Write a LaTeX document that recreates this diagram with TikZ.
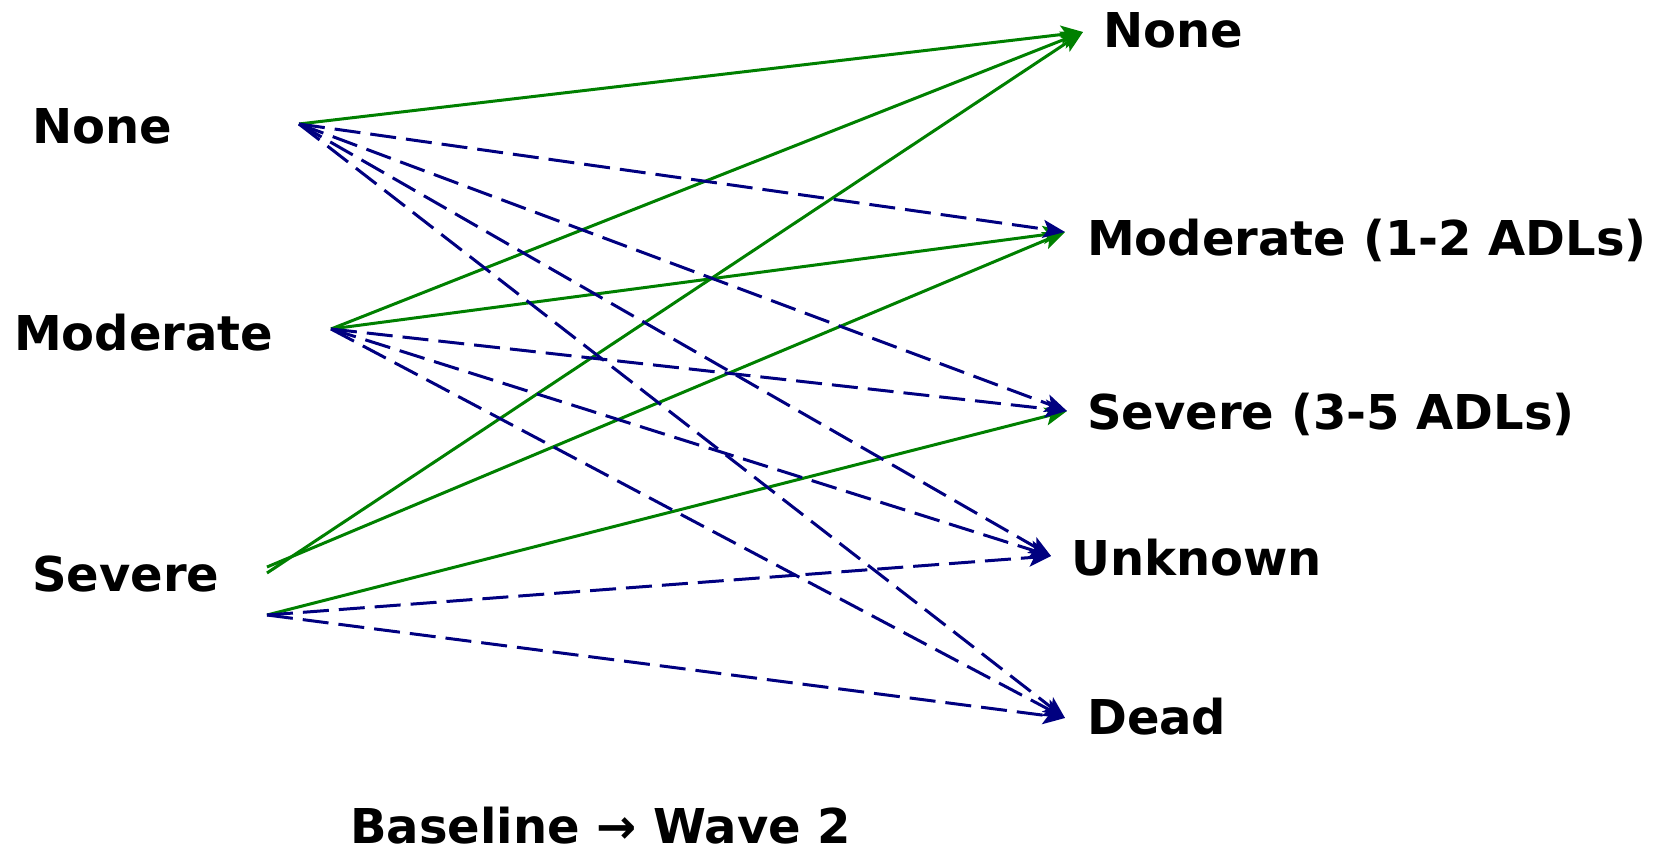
\documentclass[tikz,border=0pt]{standalone}
\usepackage{fontspec}
\setmainfont{DejaVu Sans}
\usetikzlibrary{arrows.meta}
\definecolor{lgreen}{RGB}{0,128,0}
\definecolor{lnavy}{RGB}{0,0,128}
\begin{document}
\begin{tikzpicture}[x=1pt,y=-1pt,
  lbl/.style={anchor=base west,inner sep=0pt,font=\fontsize{48}{58}\selectfont\bfseries},
  gline/.style={draw=lgreen,line width=3pt,-{Stealth[length=22pt,width=18pt,inset=5pt]}},
  bline/.style={draw=lnavy,line width=3pt,dash pattern=on 26pt off 10pt,-{Stealth[length=22pt,width=18pt,inset=5pt]}}]
\useasboundingbox (0,0) rectangle (1662,854);
% left labels
\node[lbl] (lnone) at (32,143) {None};
\node[lbl] (lmod) at (14,350) {Moderate};
\node[lbl] (lsev) at (32,591) {Severe};
% right labels
\node[lbl] (rnone) at (1103,47) {None};
\node[lbl] (rmod) at (1087,255) {Moderate (1-2 ADLs)};
\node[lbl] (rsev) at (1087,429) {Severe (3-5 ADLs)};
\node[lbl] (runk) at (1071,575) {Unknown};
\node[lbl] (rdead) at (1087,734) {Dead};
\node[lbl] (cap) at (350,843) {Baseline → Wave 2};
% start points
\coordinate (sN) at (299,124);
\coordinate (sM) at (331,329);
\coordinate (sS1) at (267,567);
\coordinate (sS2) at (267,573);
\coordinate (sS3) at (267,615);
% end points
\coordinate (eN) at (1083,32);
\coordinate (eM) at (1065,232);
\coordinate (eS) at (1067,411);
\coordinate (eU) at (1051,556);
\coordinate (eD) at (1065,718);
% green
\draw[gline] (sN) -- (eN);
\draw[gline] (sM) -- (eN);
\draw[gline] (sM) -- (eM);
\draw[gline] (sS2) -- (eN);
\draw[gline] (sS1) -- (eM);
\draw[gline] (sS3) -- (eS);
% blue dashed
\draw[bline] (sN) -- (eM);
\draw[bline] (sN) -- (eS);
\draw[bline] (sN) -- (eU);
\draw[bline] (sN) -- (eD);
\draw[bline] (sM) -- (eS);
\draw[bline] (sM) -- (eU);
\draw[bline] (sM) -- (eD);
\draw[bline] (sS3) -- (eU);
\draw[bline] (sS3) -- (eD);
\end{tikzpicture}
\end{document}
